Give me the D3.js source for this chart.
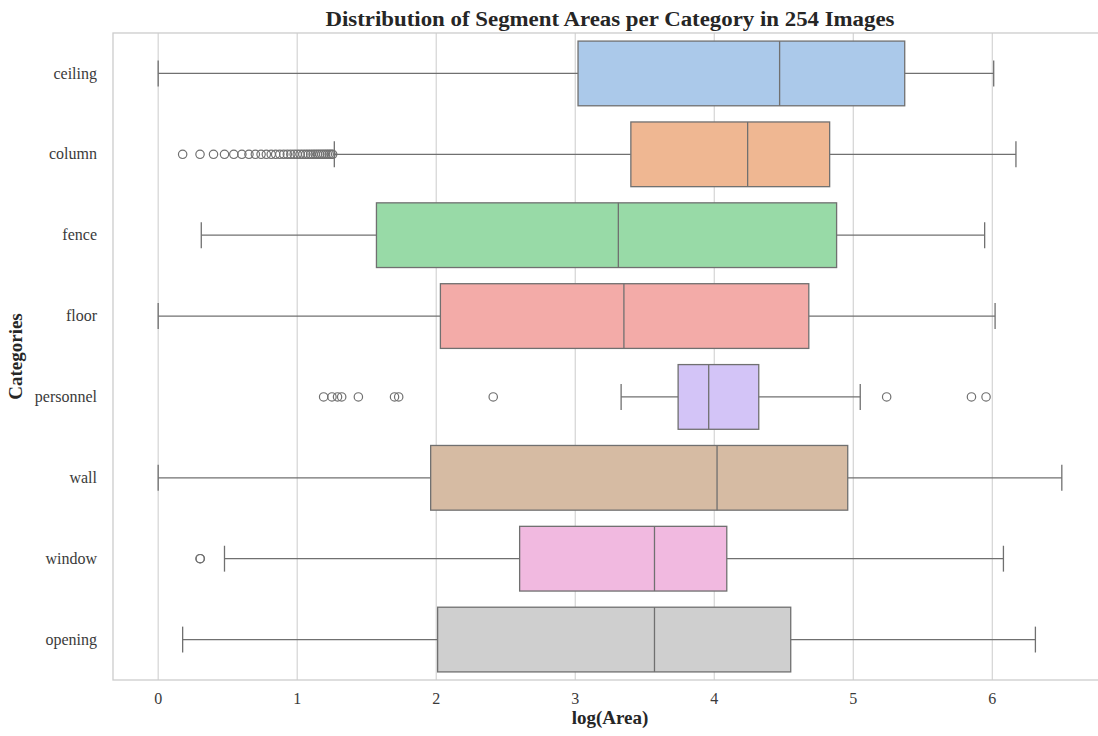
<!DOCTYPE html>
<html>
<head>
<meta charset="utf-8">
<script src="https://cdn.jsdelivr.net/npm/d3@7/dist/d3.min.js"></script>
<style>
  html, body { margin: 0; padding: 0; background: #ffffff; }
  svg { display: block; }
</style>
</head>
<body>
<svg id="chart" width="1098" height="736"></svg>
<script>
// Box statistics of log(Area) for each segment category
const categories = ["ceiling", "column", "fence", "floor", "personnel", "wall", "window", "opening"];
const whiskerLow  = [0.00, 1.267, 0.31, 0.00, 3.33, 0.00, 0.477, 0.176];
const q1Values    = [3.02, 3.40, 1.57, 2.03, 3.74, 1.96, 2.60, 2.01];
const medians     = [4.47, 4.24, 3.31, 3.35, 3.96, 4.02, 3.57, 3.57];
const q3Values    = [5.37, 4.83, 4.88, 4.68, 4.32, 4.96, 4.09, 4.55];
const whiskerHigh = [6.01, 6.17, 5.945, 6.02, 5.05, 6.50, 6.08, 6.31];

// Points beyond the whiskers
const columnOutliers = [0.176, 0.301, 0.398, 0.477, 0.544, 0.602, 0.653, 0.699, 0.740, 0.778,
  0.813, 0.845, 0.875, 0.903, 0.929, 0.954, 0.978, 1.000, 1.021, 1.041, 1.061, 1.079, 1.097,
  1.114, 1.130, 1.146, 1.161, 1.176, 1.190, 1.204, 1.217, 1.230, 1.243, 1.255];
const personnelOutliers = [1.19, 1.25, 1.29, 1.32, 1.44, 1.70, 1.73, 2.41, 5.24, 5.85, 5.955];
const windowOutliers = [0.301, 0.303];
const outliers = { column: columnOutliers, personnel: personnelOutliers, window: windowOutliers };

const xTicks = [0, 1, 2, 3, 4, 5, 6];
const palette = ["#a1c9f4", "#ffb482", "#8de5a1", "#ff9f9b", "#d0bbff", "#debb9b", "#fab0e4", "#cfcfcf"];

const titleText = "Distribution of Segment Areas per Category in 254 Images";
const xLabel = "log(Area)";
const yLabel = "Categories";

// Layout
const plotLeft = 113, plotRight = 1107, plotTop = 33, plotBottom = 680;
const serif = "'Liberation Serif', 'DejaVu Serif', serif";
const lineColor = "#707070";
const gridColor = "#d4d4d4";

const svg = d3.select("#chart");

const x = d3.scaleLinear().domain([-0.325, 6.825]).range([plotLeft, plotRight]);
const y = d3.scaleBand().domain(categories).range([plotTop, plotBottom]).paddingInner(0).paddingOuter(0);
const band = y.bandwidth();
const boxH = band * 0.8;
const capH = boxH * 0.4;

// softened fill, as the boxes are drawn with reduced saturation
const fill = palette.map(c => { const h = d3.hsl(c); h.s *= 0.75; return h.formatHex(); });

// Vertical grid lines
svg.append("g")
  .selectAll("line")
  .data(xTicks)
  .join("line")
  .attr("x1", d => x(d)).attr("x2", d => x(d))
  .attr("y1", plotTop).attr("y2", plotBottom)
  .attr("stroke", gridColor).attr("stroke-width", 1.2);

// Frame
svg.append("rect")
  .attr("x", plotLeft).attr("y", plotTop)
  .attr("width", plotRight - plotLeft).attr("height", plotBottom - plotTop)
  .attr("fill", "none").attr("stroke", "#cccccc").attr("stroke-width", 1.3);

const boxes = svg.append("g");
categories.forEach((cat, i) => {
  const cy = y(cat) + band / 2;
  const g = boxes.append("g");
  // whiskers
  g.append("line")
    .attr("x1", x(whiskerLow[i])).attr("x2", x(q1Values[i]))
    .attr("y1", cy).attr("y2", cy)
    .attr("stroke", lineColor).attr("stroke-width", 1.3);
  g.append("line")
    .attr("x1", x(q3Values[i])).attr("x2", x(whiskerHigh[i]))
    .attr("y1", cy).attr("y2", cy)
    .attr("stroke", lineColor).attr("stroke-width", 1.3);
  // caps
  [whiskerLow[i], whiskerHigh[i]].forEach(v => {
    g.append("line")
      .attr("x1", x(v)).attr("x2", x(v))
      .attr("y1", cy - capH / 2).attr("y2", cy + capH / 2)
      .attr("stroke", lineColor).attr("stroke-width", 1.3);
  });
  // box
  g.append("rect")
    .attr("x", x(q1Values[i])).attr("y", cy - boxH / 2)
    .attr("width", x(q3Values[i]) - x(q1Values[i])).attr("height", boxH)
    .attr("fill", fill[i]).attr("stroke", lineColor).attr("stroke-width", 1.3);
  // median
  g.append("line")
    .attr("x1", x(medians[i])).attr("x2", x(medians[i]))
    .attr("y1", cy - boxH / 2).attr("y2", cy + boxH / 2)
    .attr("stroke", lineColor).attr("stroke-width", 1.3);
  // fliers
  const pts = outliers[cat] || [];
  g.selectAll("circle")
    .data(pts)
    .join("circle")
    .attr("cx", d => x(d)).attr("cy", cy).attr("r", 4.2)
    .attr("fill", "none").attr("stroke", lineColor).attr("stroke-width", 1.2);
});

// X tick labels
svg.append("g")
  .selectAll("text")
  .data(xTicks)
  .join("text")
  .attr("x", d => x(d)).attr("y", 704)
  .attr("text-anchor", "middle")
  .attr("font-family", serif).attr("font-size", 16)
  .attr("fill", "#3a3a3a")
  .text(d => d);

// Y tick labels
svg.append("g")
  .selectAll("text")
  .data(categories)
  .join("text")
  .attr("x", 97).attr("y", d => y(d) + band / 2)
  .attr("dy", "0.32em")
  .attr("text-anchor", "end")
  .attr("font-family", serif).attr("font-size", 16)
  .attr("fill", "#3a3a3a")
  .text(d => d);

// Title
svg.append("text")
  .attr("x", (plotLeft + plotRight) / 2).attr("y", 26)
  .attr("text-anchor", "middle")
  .attr("font-family", serif).attr("font-size", 20).attr("font-weight", "bold")
  .attr("fill", "#262626")
  .attr("textLength", 569).attr("lengthAdjust", "spacingAndGlyphs")
  .text(titleText);

// Axis labels
svg.append("text")
  .attr("x", (plotLeft + plotRight) / 2).attr("y", 724)
  .attr("text-anchor", "middle")
  .attr("font-family", serif).attr("font-size", 19).attr("font-weight", "bold")
  .attr("fill", "#262626")
  .text(xLabel);

svg.append("text")
  .attr("transform", `translate(22, ${(plotTop + plotBottom) / 2}) rotate(-90)`)
  .attr("text-anchor", "middle")
  .attr("font-family", serif).attr("font-size", 19).attr("font-weight", "bold")
  .attr("fill", "#262626")
  .text(yLabel);
</script>
</body>
</html>
